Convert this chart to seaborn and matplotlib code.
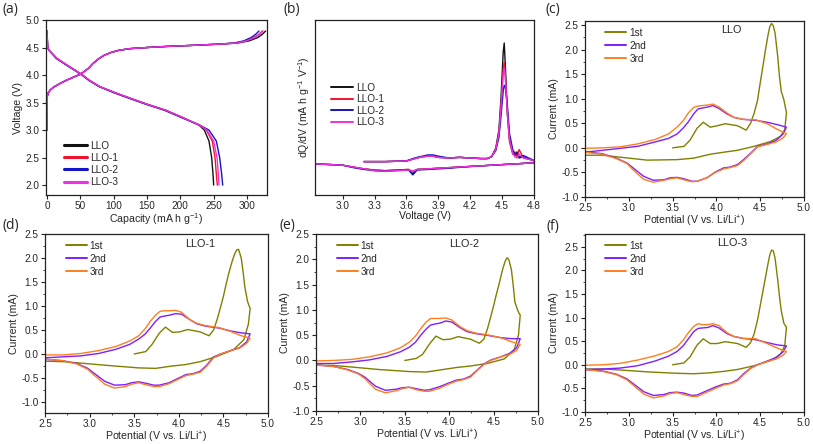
import matplotlib
matplotlib.use("Agg")
import matplotlib.pyplot as plt
import seaborn as sns
import numpy as np
from matplotlib.ticker import MultipleLocator, AutoMinorLocator, FormatStrFormatter

# === (a) charge / discharge profiles ===
samples = ["LLO", "LLO-1", "LLO-2", "LLO-3"]
sample_colors = ["#111111", "#F0142E", "#1414C8", "#F030E0"]

chg_volt = [3.0, 3.62, 3.68, 3.73, 3.78, 3.85, 3.91, 4.02, 4.12, 4.21, 4.30, 4.36,
            4.41, 4.45, 4.48, 4.50, 4.52, 4.54, 4.56, 4.58, 4.62, 4.68, 4.74, 4.80]
chg_cap_llo = [0, 0.5, 2, 5, 10, 20, 30, 51, 62, 69, 78, 86, 96, 108, 125, 150, 180, 220, 255, 285, 303, 316, 323, 328]
chg_cap_llo1 = [0, 0.5, 2, 5, 10, 20, 30, 51, 62, 69, 78, 86, 96, 108, 125, 150, 180, 220, 255, 282, 298, 310, 318, 323]
chg_cap_llo2 = [0, 0.5, 2, 5, 10, 20, 30, 51, 62, 69, 78, 86, 96, 108, 125, 150, 180, 220, 255, 280, 295, 306, 313, 318]
chg_cap_llo3 = [0, 0.5, 2, 5, 10, 20, 30, 51, 62, 69, 78, 86, 96, 108, 125, 150, 180, 220, 255, 283, 299, 311, 319, 324]

dis_volt = [4.8, 4.5, 4.45, 4.3, 4.18, 4.02, 3.9, 3.79, 3.67, 3.56, 3.47, 3.36,
            3.23, 3.09, 3.0, 2.8, 2.5, 2.2, 2.0]
dis_cap_llo = [0, 1, 3, 15, 30, 51, 64, 79, 104, 129, 150, 178, 203, 228, 236, 243, 247, 249, 250]
dis_cap_llo1 = [0, 1, 3, 15, 30, 51, 64, 79, 104, 129, 150, 178, 203, 229, 239, 248, 252, 254, 255.5]
dis_cap_llo2 = [0, 1, 3, 14, 29, 50, 63, 78, 102, 127, 148, 176, 201, 229, 243, 254, 259, 262, 263.5]
dis_cap_llo3 = [0, 1, 3, 15, 30, 51, 64, 79, 104, 129, 150, 178, 203, 229, 240, 250, 255, 257, 258]

# === (b) dQ/dV ===
dq_chg_volt = [3.2, 3.4, 3.6, 3.66, 3.7, 3.75, 3.8, 3.85, 3.9, 4.0, 4.1, 4.2, 4.3, 4.36, 4.4,
               4.44, 4.47, 4.49, 4.51, 4.52, 4.53, 4.55, 4.57, 4.6, 4.62, 4.64, 4.66, 4.7, 4.75, 4.8]
dq_dis_volt = [4.8, 4.6, 4.4, 4.2, 4.0, 3.8, 3.7, 3.66, 3.62, 3.5, 3.4, 3.3, 3.2, 3.1, 3.0, 2.9, 2.75]
dq_chg_llo = [0.02, 0.02, 0.025, 0.04, 0.05, 0.06, 0.065, 0.065, 0.055, 0.05, 0.055, 0.05, 0.045, 0.045, 0.06,
              0.13, 0.28, 0.55, 0.92, 1.0, 0.82, 0.42, 0.2, 0.1, 0.07, 0.1, 0.05, 0.06, 0.04, 0.03]
dq_chg_llo1 = [0.02, 0.02, 0.025, 0.04, 0.05, 0.06, 0.065, 0.065, 0.055, 0.05, 0.055, 0.05, 0.045, 0.045, 0.06,
               0.12, 0.25, 0.48, 0.78, 0.84, 0.74, 0.4, 0.18, 0.08, 0.1, 0.06, 0.12, 0.05, 0.04, 0.03]
dq_chg_llo2 = [0.02, 0.02, 0.025, 0.045, 0.055, 0.065, 0.075, 0.075, 0.065, 0.05, 0.055, 0.05, 0.045, 0.045, 0.06,
               0.11, 0.22, 0.4, 0.6, 0.65, 0.64, 0.48, 0.25, 0.12, 0.08, 0.09, 0.06, 0.07, 0.05, 0.03]
dq_chg_llo3 = [0.02, 0.02, 0.025, 0.04, 0.05, 0.06, 0.065, 0.065, 0.055, 0.05, 0.055, 0.05, 0.045, 0.045, 0.06,
               0.12, 0.25, 0.47, 0.74, 0.8, 0.72, 0.42, 0.2, 0.09, 0.06, 0.05, 0.08, 0.05, 0.04, 0.03]
dq_dis_llo = [0.01, 0.0, -0.01, -0.02, -0.03, -0.04, -0.045, -0.08, -0.045, -0.05, -0.055, -0.05, -0.04, -0.025, -0.01, -0.005, 0.0]
dq_dis_llo1 = [0.01, 0.0, -0.01, -0.02, -0.03, -0.04, -0.045, -0.06, -0.045, -0.05, -0.055, -0.05, -0.04, -0.025, -0.01, -0.005, 0.0]
dq_dis_llo2 = [0.01, 0.0, -0.01, -0.02, -0.035, -0.045, -0.05, -0.09, -0.05, -0.055, -0.06, -0.055, -0.045, -0.03, -0.01, -0.005, 0.0]
dq_dis_llo3 = [0.01, 0.0, -0.01, -0.02, -0.03, -0.04, -0.045, -0.06, -0.05, -0.055, -0.06, -0.055, -0.04, -0.025, -0.01, -0.005, 0.0]

# === (c)-(f) cyclic voltammetry ===
cycles = ["1st", "2nd", "3rd"]
cycle_colors = ["#808000", "#7F1FFF", "#FF7F1E"]

v1_an = [3.5, 3.63, 3.7, 3.78, 3.85, 3.93, 4.01, 4.1, 4.24, 4.34, 4.39, 4.43, 4.47, 4.5, 4.53,
         4.56, 4.59, 4.61, 4.63, 4.65, 4.67, 4.7, 4.72, 4.74, 4.77, 4.79, 4.8]
v1_ca = [4.8, 4.78, 4.73, 4.62, 4.43, 4.24, 4.08, 3.93, 3.74, 3.55, 3.21, 2.9, 2.7, 2.5]
v_an = [2.5, 2.7, 2.9, 3.1, 3.3, 3.45, 3.55, 3.62, 3.68, 3.74, 3.79, 3.84, 3.9, 3.96, 4.03, 4.12,
        4.2, 4.3, 4.45, 4.58, 4.7, 4.8]
v_ca = [4.8, 4.76, 4.68, 4.58, 4.47, 4.39, 4.31, 4.24, 4.16, 4.08, 3.99, 3.89, 3.78, 3.72, 3.63,
        3.55, 3.47, 3.4, 3.28, 3.17, 3.05, 2.98, 2.86, 2.7, 2.5]

# LLO
llo_1st_an = [0.0, 0.03, 0.16, 0.40, 0.52, 0.42, 0.45, 0.49, 0.45, 0.36, 0.5, 0.7, 0.97, 1.32, 1.65,
              1.99, 2.3, 2.47, 2.53, 2.48, 2.33, 1.86, 1.45, 1.15, 0.98, 0.8, 0.72]
llo_1st_ca = [0.72, 0.37, 0.23, 0.13, 0.03, -0.05, -0.09, -0.13, -0.21, -0.24, -0.25, -0.19, -0.15, -0.15]
llo_2nd_an = [-0.09, -0.05, -0.01, 0.03, 0.12, 0.19, 0.28, 0.40, 0.53, 0.69, 0.79, 0.81, 0.83, 0.86, 0.8, 0.69,
              0.62, 0.58, 0.56, 0.52, 0.47, 0.42]
llo_2nd_ca = [0.42, 0.28, 0.15, 0.08, 0.03, -0.11, -0.24, -0.34, -0.39, -0.41, -0.49, -0.61, -0.68, -0.68, -0.63,
              -0.6, -0.61, -0.65, -0.66, -0.58, -0.41, -0.31, -0.21, -0.12, -0.08]
llo_3rd_an = [-0.01, 0.0, 0.02, 0.08, 0.17, 0.28, 0.42, 0.55, 0.71, 0.82, 0.85, 0.86, 0.87, 0.89, 0.83, 0.71,
              0.62, 0.58, 0.57, 0.49, 0.37, 0.29]
llo_3rd_ca = [0.29, 0.2, 0.12, 0.07, 0.02, -0.12, -0.26, -0.36, -0.40, -0.43, -0.5, -0.61, -0.68, -0.69, -0.65,
              -0.61, -0.63, -0.66, -0.70, -0.64, -0.45, -0.32, -0.22, -0.13, -0.09]

# LLO-1
llo1_1st_an = [0.0, 0.05, 0.2, 0.43, 0.56, 0.45, 0.46, 0.51, 0.46, 0.38, 0.5, 0.72, 0.99, 1.2, 1.45,
               1.68, 1.88, 2.0, 2.1, 2.17, 2.18, 2.0, 1.72, 1.4, 1.1, 0.99, 0.95]
llo1_1st_ca = [0.95, 0.62, 0.3, 0.1, -0.05, -0.16, -0.22, -0.25, -0.3, -0.29, -0.24, -0.19, -0.16, -0.15]
llo1_2nd_an = [-0.08, -0.06, -0.04, 0.01, 0.1, 0.2, 0.31, 0.41, 0.54, 0.68, 0.77, 0.79, 0.81, 0.84, 0.83, 0.72,
               0.63, 0.58, 0.54, 0.48, 0.44, 0.42]
llo1_2nd_ca = [0.42, 0.25, 0.13, 0.07, 0.0, -0.06, -0.24, -0.36, -0.41, -0.43, -0.51, -0.6, -0.65, -0.65, -0.61,
               -0.58, -0.6, -0.64, -0.65, -0.57, -0.4, -0.3, -0.2, -0.14, -0.11]
llo1_3rd_an = [-0.02, -0.02, 0.01, 0.07, 0.16, 0.27, 0.38, 0.52, 0.68, 0.81, 0.89, 0.9, 0.9, 0.91, 0.87, 0.72,
               0.64, 0.59, 0.55, 0.47, 0.38, 0.33]
llo1_3rd_ca = [0.33, 0.22, 0.12, 0.07, 0.0, -0.08, -0.26, -0.38, -0.42, -0.45, -0.53, -0.62, -0.68, -0.68, -0.64,
               -0.6, -0.63, -0.68, -0.71, -0.63, -0.44, -0.32, -0.21, -0.14, -0.11]

# LLO-2
llo2_1st_an = [0.0, 0.04, 0.12, 0.33, 0.48, 0.41, 0.42, 0.47, 0.42, 0.34, 0.42, 0.62, 0.88, 1.08, 1.3,
               1.5, 1.72, 1.85, 1.96, 2.03, 2.0, 1.8, 1.5, 1.15, 1.0, 0.92, 0.9]
llo2_1st_ca = [0.9, 0.5, 0.2, 0.03, -0.06, -0.11, -0.14, -0.18, -0.23, -0.22, -0.18, -0.13, -0.1, -0.09]
llo2_2nd_an = [-0.06, -0.06, -0.03, 0.01, 0.08, 0.17, 0.26, 0.36, 0.5, 0.62, 0.7, 0.72, 0.74, 0.78, 0.76, 0.65,
               0.57, 0.53, 0.49, 0.45, 0.43, 0.43]
llo2_2nd_ca = [0.43, 0.25, 0.14, 0.07, 0.01, -0.07, -0.2, -0.31, -0.37, -0.39, -0.45, -0.52, -0.58, -0.59, -0.56,
               -0.53, -0.54, -0.57, -0.59, -0.51, -0.33, -0.26, -0.18, -0.12, -0.09]
llo2_3rd_an = [-0.01, 0.0, 0.02, 0.07, 0.15, 0.25, 0.36, 0.48, 0.63, 0.76, 0.83, 0.83, 0.83, 0.84, 0.8, 0.67,
               0.59, 0.54, 0.5, 0.45, 0.37, 0.32]
llo2_3rd_ca = [0.32, 0.2, 0.12, 0.07, 0.0, -0.08, -0.21, -0.33, -0.38, -0.41, -0.47, -0.55, -0.61, -0.61, -0.58,
               -0.53, -0.56, -0.6, -0.64, -0.57, -0.36, -0.27, -0.19, -0.12, -0.09]

# LLO-3
llo3_1st_an = [0.0, 0.04, 0.17, 0.42, 0.55, 0.45, 0.45, 0.49, 0.45, 0.37, 0.47, 0.65, 0.95, 1.25, 1.55,
               1.85, 2.15, 2.33, 2.43, 2.41, 2.25, 1.8, 1.45, 1.15, 0.88, 0.82, 0.8]
llo3_1st_ca = [0.8, 0.4, 0.22, 0.09, -0.02, -0.1, -0.14, -0.17, -0.19, -0.18, -0.15, -0.11, -0.09, -0.09]
llo3_2nd_an = [-0.1, -0.09, -0.07, -0.02, 0.08, 0.18, 0.28, 0.4, 0.55, 0.7, 0.77, 0.78, 0.79, 0.83, 0.78, 0.66,
               0.6, 0.56, 0.53, 0.47, 0.42, 0.4]
llo3_2nd_ca = [0.4, 0.27, 0.15, 0.08, 0.0, -0.07, -0.19, -0.32, -0.39, -0.41, -0.47, -0.55, -0.64, -0.65, -0.6,
               -0.58, -0.59, -0.63, -0.65, -0.57, -0.4, -0.3, -0.2, -0.13, -0.1]
llo3_3rd_an = [-0.01, 0.0, 0.03, 0.1, 0.19, 0.28, 0.38, 0.52, 0.68, 0.81, 0.87, 0.85, 0.85, 0.87, 0.83, 0.68,
               0.6, 0.56, 0.55, 0.45, 0.35, 0.28]
llo3_3rd_ca = [0.28, 0.2, 0.12, 0.07, 0.0, -0.08, -0.21, -0.34, -0.4, -0.43, -0.5, -0.58, -0.67, -0.67, -0.63,
               -0.59, -0.61, -0.66, -0.7, -0.62, -0.43, -0.32, -0.21, -0.14, -0.1]

# === style ===
sns.set_style("ticks")
plt.rcParams["font.family"] = ["Liberation Sans", "DejaVu Sans"]
plt.rcParams["mathtext.fontset"] = "custom"
plt.rcParams["mathtext.rm"] = "Liberation Sans"
plt.rcParams["mathtext.default"] = "regular"
plt.rcParams["axes.unicode_minus"] = False
plt.rcParams["axes.edgecolor"] = "#222222"
plt.rcParams["axes.linewidth"] = 0.9
plt.rcParams["xtick.major.size"] = 3
plt.rcParams["ytick.major.size"] = 3
plt.rcParams["xtick.minor.size"] = 1.6
plt.rcParams["ytick.minor.size"] = 1.6
plt.rcParams["xtick.major.width"] = 0.8
plt.rcParams["ytick.major.width"] = 0.8

W, H = 813, 444
fig = plt.figure(figsize=(W / 100, H / 100), dpi=100)


def make_ax(left, right, top, bottom):
    return fig.add_axes([left / W, 1 - bottom / H, (right - left) / W, (bottom - top) / H])


def style_ax(ax):
    for s in ax.spines.values():
        s.set_visible(True)
    ax.tick_params(labelsize=7.2, pad=1.5, color="#222222")
    ax.xaxis.label.set_size(7.6)
    ax.yaxis.label.set_size(7.6)
    ax.xaxis.labelpad = 0
    ax.yaxis.labelpad = 2


LW = 1.0

# (a)
ax_a = make_ax(46, 267, 20, 195)
chg_caps = [chg_cap_llo, chg_cap_llo1, chg_cap_llo2, chg_cap_llo3]
dis_caps = [dis_cap_llo, dis_cap_llo1, dis_cap_llo2, dis_cap_llo3]
for name, col, cc, dc in zip(samples, sample_colors, chg_caps, dis_caps):
    sns.lineplot(x=cc, y=chg_volt, sort=False, estimator=None, color=col, lw=LW, ax=ax_a)
    sns.lineplot(x=dc, y=dis_volt, sort=False, estimator=None, color=col, lw=LW, ax=ax_a, label=name)
ax_a.set_xlim(-1.5, 330)
ax_a.set_ylim(1.82, 5.0)
ax_a.xaxis.set_major_locator(MultipleLocator(50))
ax_a.yaxis.set_major_locator(MultipleLocator(0.5))
ax_a.yaxis.set_major_formatter(FormatStrFormatter("%.1f"))
ax_a.set_xlabel("Capacity (mA h g$^{-1}$)")
ax_a.set_ylabel("Voltage (V)")
style_ax(ax_a)
leg = ax_a.legend(loc="upper left", bbox_to_anchor=(0.06, 0.34), frameon=False, fontsize=7.2,
                  handlelength=2.3, handletextpad=0.3, labelspacing=0.22, borderpad=0)
for h in leg.get_lines():
    h.set_linewidth(2.2)

# (b)
ax_b = make_ax(315, 534, 20, 195)
dq_chgs = [dq_chg_llo, dq_chg_llo1, dq_chg_llo2, dq_chg_llo3]
dq_diss = [dq_dis_llo, dq_dis_llo1, dq_dis_llo2, dq_dis_llo3]
for name, col, cq, dq in zip(samples, sample_colors, dq_chgs, dq_diss):
    sns.lineplot(x=dq_chg_volt + dq_dis_volt, y=cq + dq, sort=False, estimator=None,
                 color=col, lw=LW, ax=ax_b, label=name)
ax_b.set_xlim(2.74, 4.8)
ax_b.set_ylim(-0.256, 1.19)
ax_b.xaxis.set_major_formatter(FormatStrFormatter("%.1f"))
ax_b.set_xticks(np.arange(3.0, 4.81, 0.3))
ax_b.set_yticks([])
ax_b.set_xlabel("Voltage (V)")
ax_b.set_ylabel("dQ/dV (mA h g$^{-1}$ V$^{-1}$)")
style_ax(ax_b)
leg = ax_b.legend(loc="upper left", bbox_to_anchor=(0.05, 0.67), frameon=False, fontsize=7.2,
                  handlelength=2.2, handletextpad=0.3, labelspacing=0.15, borderpad=0)
for h in leg.get_lines():
    h.set_linewidth(1.4)

# (c)-(f)
cv_panels = [
    ("LLO", (585, 804, 21, 197), (-1.0, 2.58),
     [(llo_1st_an, llo_1st_ca), (llo_2nd_an, llo_2nd_ca), (llo_3rd_an, llo_3rd_ca)], (0.67, 0.95)),
    ("LLO-1", (45, 268, 234, 413), (-1.23, 2.5),
     [(llo1_1st_an, llo1_1st_ca), (llo1_2nd_an, llo1_2nd_ca), (llo1_3rd_an, llo1_3rd_ca)], (0.695, 0.943)),
    ("LLO-2", (316, 538, 234, 411), (-1.0, 2.5),
     [(llo2_1st_an, llo2_1st_ca), (llo2_2nd_an, llo2_2nd_ca), (llo2_3rd_an, llo2_3rd_ca)], (0.669, 0.944)),
    ("LLO-3", (585, 804, 234, 412), (-1.0, 2.77),
     [(llo3_1st_an, llo3_1st_ca), (llo3_2nd_an, llo3_2nd_ca), (llo3_3rd_an, llo3_3rd_ca)], (0.673, 0.95)),
]
for name, box, ylim, loops, tpos in cv_panels:
    ax = make_ax(*box)
    for i, (cyc, col, (an, ca)) in enumerate(zip(cycles, cycle_colors, loops)):
        if i == 0:
            xs = v1_an + v1_ca
        else:
            xs = v_an + v_ca
        sns.lineplot(x=xs, y=an + ca, sort=False, estimator=None, color=col, lw=LW, ax=ax, label=cyc)
    ax.set_xlim(2.5, 5.0)
    ax.set_ylim(*ylim)
    ax.xaxis.set_major_locator(MultipleLocator(0.5))
    ax.yaxis.set_major_locator(MultipleLocator(0.5))
    ax.xaxis.set_minor_locator(AutoMinorLocator(2))
    ax.yaxis.set_minor_locator(AutoMinorLocator(2))
    ax.xaxis.set_major_formatter(FormatStrFormatter("%.1f"))
    ax.yaxis.set_major_formatter(FormatStrFormatter("%.1f"))
    ax.set_xlabel("Potential (V vs. Li/Li$^{+}$)")
    ax.set_ylabel("Current (mA)")
    style_ax(ax)
    ax.text(tpos[0], tpos[1], name, transform=ax.transAxes, ha="center", va="center", fontsize=7.8)
    leg = ax.legend(loc="upper left", bbox_to_anchor=(0.07, 0.99), frameon=False, fontsize=7.2,
                    handlelength=2.1, handletextpad=0.3, labelspacing=0.3, borderpad=0)
    for h in leg.get_lines():
        h.set_linewidth(1.4)

# panel letters
for lab, (px, py) in zip(["(a)", "(b)", "(c)", "(d)", "(e)", "(f)"],
                         [(2, 10), (283, 10), (545, 10), (2, 225), (279, 225), (546, 226)]):
    fig.text(px / W, 1 - py / H, lab, fontsize=10, family=["Open Sans", "DejaVu Sans"],
             ha="left", va="center")

plt.savefig("out.png", dpi=100)
